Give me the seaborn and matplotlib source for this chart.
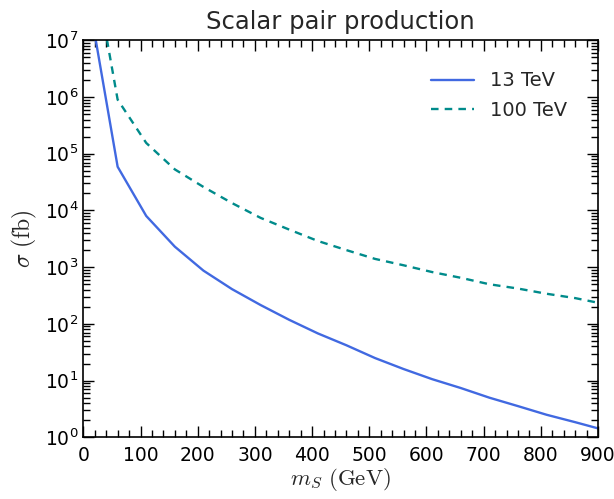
import numpy as np
import pandas as pd
import matplotlib
matplotlib.use("Agg")
import matplotlib.pyplot as plt
import seaborn as sns

# scalar mass points (GeV) and cross sections (fb)
mass = [10, 60, 110, 160, 210, 260, 310, 360, 410, 460, 510, 560,
        610, 660, 710, 760, 810, 860, 910]
xsec_13 = [4.9e7, 5.9e4, 8.0e3, 2.3e3, 870, 410, 215, 118, 68, 42, 25, 16,
           10.6, 7.4, 5.0, 3.55, 2.5, 1.85, 1.35]
xsec_100 = [6.0e8, 9.0e5, 1.55e5, 5.3e4, 2.6e4, 1.35e4, 7.4e3, 4.6e3, 2.9e3,
            2.0e3, 1.40e3, 1.08e3, 820, 650, 500, 420, 340, 285, 225]
labels = ["13 TeV", "100 TeV"]

df = pd.concat([
    pd.DataFrame({"m": mass, "sigma": xsec_13, "energy": labels[0]}),
    pd.DataFrame({"m": mass, "sigma": xsec_100, "energy": labels[1]}),
])

sns.set_style("ticks")
plt.rcParams["mathtext.fontset"] = "cm"
plt.rcParams["font.family"] = ["DejaVu Sans"]

fig = plt.figure(figsize=(6.14, 4.99), dpi=100)
ax = fig.add_axes([0.1357, 0.1236, 0.8383, 0.7956])

sns.lineplot(data=df, x="m", y="sigma", hue="energy", style="energy",
             palette={"13 TeV": "royalblue", "100 TeV": "darkcyan"},
             dashes={"13 TeV": "", "100 TeV": (3.2, 2.6)},
             linewidth=1.7, ax=ax)

ax.set_yscale("log")
ax.set_xlim(0, 900)
ax.set_ylim(1, 1e7)
ax.set_xticks(np.arange(0, 901, 100))
ax.set_xticks(np.arange(0, 901, 20), minor=True)

ax.tick_params(which="both", direction="in", top=True, right=True,
               labelsize=13.5, width=1, colors="black")
ax.tick_params(which="major", length=8)
ax.tick_params(which="minor", length=5)
ax.tick_params(axis="x", which="both", pad=6)
for s in ax.spines.values():
    s.set_linewidth(1.2)
    s.set_color("black")

ax.set_title("Scalar pair production", fontsize=17.5, pad=8)
ax.set_xlabel(r"$m_S\ (\mathrm{GeV})$", fontsize=16.5, labelpad=1)
ax.set_ylabel(r"$\sigma\ (\mathrm{fb})$", fontsize=17, labelpad=4)

leg = ax.legend(frameon=False, fontsize=14, loc="upper right",
                handlelength=2.2, borderaxespad=1.2, labelspacing=0.55)

fig.savefig("out.png", dpi=100)
